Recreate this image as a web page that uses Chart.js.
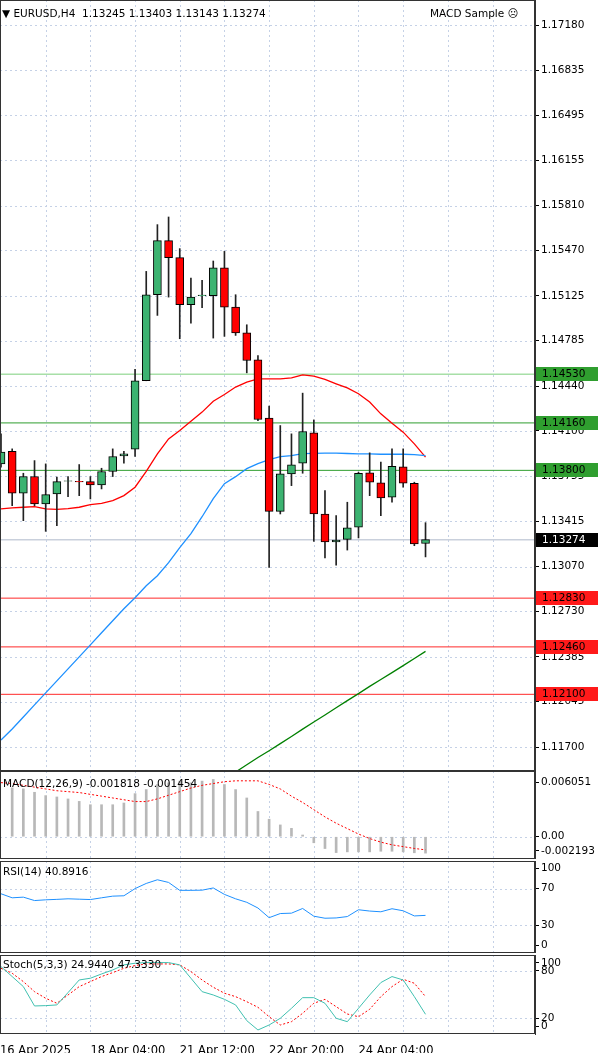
<!DOCTYPE html>
<html><head><meta charset="utf-8">
<script src="https://cdn.jsdelivr.net/npm/chart.js@4"></script>
<style>
html,body{margin:0;padding:0;background:#fff;width:600px;height:1053px;overflow:hidden;font-family:"DejaVu Sans",sans-serif}
.pane{position:absolute;left:0;width:600px}
canvas{display:block}
.ttl{position:absolute;font-size:10.5px;color:#000;white-space:pre;z-index:5}
</style></head><body>
<div class="pane" style="top:0;height:771px"><canvas id="cMain" width="600" height="771" style="width:600px;height:771px"></canvas></div>
<div class="pane" style="top:771px;height:88px"><canvas id="cMacd" width="600" height="88" style="width:600px;height:88px"></canvas></div>
<div class="pane" style="top:859px;height:94px"><canvas id="cRsi" width="600" height="94" style="width:600px;height:94px"></canvas></div>
<div class="pane" style="top:953px;height:100px"><canvas id="cSto" width="600" height="100" style="width:600px;height:100px"></canvas></div>
<div class="ttl" style="left:2px;top:7px">▼ EURUSD,H4  1.13245 1.13403 1.13143 1.13274</div>
<div class="ttl" style="left:430px;top:7px">MACD Sample ☹</div>
<div class="ttl" style="left:3px;top:777px">MACD(12,26,9) -0.001818 -0.001454</div>
<div class="ttl" style="left:3px;top:865px">RSI(14) 40.8916</div>
<div class="ttl" style="left:3px;top:958px">Stoch(5,3,3) 24.9440 47.3330</div>
<script>
// ---- data ----
const openP  = [1.13849,1.13945,1.13626,1.13753,1.13545,1.13621,1.13717,1.13717,1.13715,1.13689,1.13791,1.13910,1.13960,1.14480,1.15133,1.15544,1.15414,1.15057,1.15126,1.15126,1.15338,1.15039,1.14844,1.14639,1.14196,1.13489,1.13773,1.13854,1.14084,1.13469,1.13256,1.13276,1.13368,1.13781,1.13705,1.13596,1.13826,1.13702,1.13245];
const highP  = [1.14077,1.13963,1.13778,1.13874,1.13849,1.13748,1.13753,1.13844,1.13753,1.13816,1.13963,1.13945,1.14566,1.15310,1.15665,1.15723,1.15483,1.15260,1.15242,1.15389,1.15462,1.15133,1.14905,1.14672,1.14287,1.14140,1.14077,1.14386,1.14183,1.13646,1.13456,1.13558,1.13786,1.13933,1.13862,1.13963,1.13963,1.13710,1.13403];
const lowP   = [1.13824,1.13532,1.13418,1.13532,1.13337,1.13380,1.13601,1.13608,1.13583,1.13659,1.13753,1.13854,1.13905,1.14480,1.14976,1.15115,1.14799,1.14918,1.15034,1.14804,1.14817,1.14824,1.14540,1.14178,1.13064,1.13469,1.13684,1.13778,1.13261,1.13135,1.13081,1.13195,1.13287,1.13608,1.13456,1.13558,1.13672,1.13228,1.13143];
const closeP = [1.13938,1.13626,1.13753,1.13545,1.13616,1.13715,1.13721,1.13712,1.13689,1.13791,1.13905,1.13925,1.14480,1.15133,1.15544,1.15414,1.15057,1.15115,1.15130,1.15338,1.15039,1.14844,1.14634,1.14186,1.13489,1.13773,1.13841,1.14095,1.13469,1.13256,1.13271,1.13363,1.13778,1.13710,1.13591,1.13831,1.13702,1.13241,1.13274];
const maRed  = [1.13507,1.13515,1.13520,1.13525,1.13507,1.13504,1.13510,1.13520,1.13540,1.13550,1.13570,1.13608,1.13672,1.13793,1.13925,1.14039,1.14102,1.14173,1.14242,1.14325,1.14376,1.14432,1.14470,1.14495,1.14495,1.14495,1.14502,1.14525,1.14515,1.14490,1.14457,1.14426,1.14381,1.14318,1.14229,1.14158,1.14090,1.14001,1.13900];
const maBlue = [1.11753,1.11837,1.11928,1.12020,1.12111,1.12202,1.12293,1.12384,1.12475,1.12567,1.12658,1.12749,1.12833,1.12924,1.13000,1.13099,1.13213,1.13320,1.13448,1.13585,1.13699,1.13752,1.13813,1.13851,1.13881,1.13904,1.13912,1.13927,1.13929,1.13930,1.13930,1.13928,1.13925,1.13925,1.13922,1.13922,1.13922,1.13920,1.13912];
const maGreen= [null,null,null,null,null,null,null,null,null,null,null,null,null,null,null,null,null,null,null,null,1.11455,1.11510,1.11565,1.11620,1.11672,1.11726,1.11780,1.11836,1.11890,1.11943,1.11998,1.12052,1.12105,1.12160,1.12212,1.12265,1.12318,1.12372,1.12426];
const greenLevels = [1.14530,1.14160,1.13800];
const redLevels   = [1.12830,1.12460,1.12100];
const lastPrice = 1.13274;
const priceTicks = [1.17180,1.16835,1.16495,1.16155,1.15810,1.15470,1.15125,1.14785,1.14440,1.14100,1.13755,1.13415,1.13070,1.12730,1.12385,1.12045,1.11700];
const macdHist = [null,0.00542,0.00531,0.00493,0.00456,0.00441,0.00419,0.00392,0.00355,0.00355,0.00355,0.00374,0.00478,0.00523,0.00579,0.00598,0.00617,0.00598,0.00617,0.00635,0.00579,0.00523,0.00430,0.00280,0.00194,0.00131,0.00093,0.00019,-0.00067,-0.00131,-0.00176,-0.00168,-0.00168,-0.00168,-0.00161,-0.00161,-0.00168,-0.00178,-0.001818];
const macdSignal = [0.0060,0.0059,0.0057,0.0055,0.0053,0.0051,0.0050,0.0049,0.0047,0.0045,0.0043,0.0041,0.0039,0.0039,0.0042,0.0046,0.0050,0.0054,0.0057,0.0059,0.0061,0.0062,0.0062,0.0062,0.0058,0.0053,0.0045,0.0038,0.0030,0.0022,0.0015,0.0009,0.0003,-0.0002,-0.0006,-0.0009,-0.0011,-0.0013,-0.001454];
const rsiVals = [64.4,60,60.7,57,57.8,58.3,58.9,58.5,58.1,60,61.8,62.2,70,75.6,79.6,76.7,68.1,68.1,68.3,70.7,63.7,58.9,55.1,48.9,38.4,42.9,43.3,48.4,40,37.8,38.1,39.6,47,45.6,44.8,48.1,45.9,40.3,40.89];
const stochK = [85.3,72.7,60,35.5,35.9,36.8,52.4,68.4,70.6,76,81.1,87.5,89.6,90.4,90.4,90.4,87.5,70.6,53.6,49.4,43.9,36.8,16.9,5.1,11.4,19.9,32.5,46,46,38.9,19.9,15.6,32.5,49.4,65.1,72.7,68.4,47.3,24.94];
const stochD = [83.2,76.9,66.3,53.6,45.2,38.9,49.4,60,66.3,72.7,77.7,83.2,86.6,88.7,88.7,88.7,87.5,79,68.4,59.2,51.6,47.3,40.9,33.8,21.9,11.4,15.6,26.2,38.9,43.9,34.6,25.3,21.9,31.3,47.3,60,69.3,64.2,47.33];
const macdTickVals = [0.006051,0,-0.00157];
const macdTickText = ["0.006051","0.00","-0.002193"];
const rsiTickVals = [92,70,30,8];
const rsiTickText = ["100","70","30","0"];
const stoTickVals = [90,80,20,10];
const stoTickText = ["100","80","20","0"];
const dateTickVals = [0.91,9,17,25,33];
const dateTickText = ["16 Apr 2025","18 Apr 04:00","21 Apr 12:00","22 Apr 20:00","24 Apr 04:00"];

// ---- layout helpers ----
const XMIN=0.91, XMAX=48.8, AXW=65;
const GRID='#c5d1e6';
const idx = openP.map((_,i)=>i+1);
const gridXTicks=[]; for(let v=5; v<XMAX; v+=4) gridXTicks.push(v);
Chart.defaults.animation=false;
Chart.defaults.responsive=false;
Chart.defaults.devicePixelRatio=1;
Chart.defaults.font={family:"DejaVu Sans",size:10.5};
Chart.defaults.color='#000';

const frame={id:'frame',afterDraw(c){const a=c.chartArea,x=c.ctx;x.save();x.strokeStyle='#333';x.lineWidth=1;x.strokeRect(a.left+0.5,a.top+0.5,a.right-a.left-1,a.bottom-a.top-1);x.restore();}};
const dotGrid={id:'dotGrid',beforeDatasetsDraw(c,args,opts){
  const x=c.ctx,a=c.chartArea,xs=c.scales.x,ys=c.scales.y;x.save();x.strokeStyle=GRID;x.lineWidth=1;x.setLineDash([2,3]);
  x.beginPath();
  gridXTicks.forEach(v=>{const px=Math.round(xs.getPixelForValue(v))+0.5;x.moveTo(px,a.top);x.lineTo(px,a.bottom);});
  (opts.yGrid||[]).forEach(v=>{const py=Math.round(ys.getPixelForValue(v))+0.5;x.moveTo(a.left,py);x.lineTo(a.right,py);});
  x.stroke();x.restore();}};

function xScale(showLabels){
  return {type:'linear',min:XMIN,max:XMAX,offset:false,
    afterBuildTicks:s=>{s.ticks=dateTickVals.map(v=>({value:v}));},
    afterFit:s=>{s.height=showLabels?19:0;s.paddingLeft=0;s.paddingRight=0;},
    grid:{display:false},border:{display:false},
    ticks:{display:showLabels,align:'start',maxRotation:0,autoSkip:false,padding:2,font:{family:"DejaVu Sans",size:11.5},
      callback:(v)=>{const k=dateTickVals.indexOf(v);return k>=0?dateTickText[k]:'';}}};
}
function yScale(min,max,vals,texts){
  return {type:'linear',position:'right',min,max,
    afterBuildTicks:s=>{s.ticks=vals.map(v=>({value:v}));},
    afterFit:s=>{s.width=AXW;s.paddingTop=0;s.paddingBottom=0;},
    grid:{drawOnChartArea:false,color:'#000',tickLength:4},
    border:{display:true,color:'#333'},
    ticks:{padding:2,autoSkip:false,callback:(v,i)=>texts[i]}};
}
const baseOpts=(yGrid)=>({responsive:false,maintainAspectRatio:false,animation:false,layout:{padding:0},
  plugins:{legend:{display:false},tooltip:{enabled:false},dotGrid:{yGrid}}});

// ---- main ----
const levelLabels={id:'levelLabels',afterDraw(c){
  const y=c.scales.y,x=c.ctx,a=c.chartArea;x.save();x.font='10.5px "DejaVu Sans"';x.textBaseline='middle';
  const box=(v,bg,fg)=>{const py=Math.round(y.getPixelForValue(v));x.fillStyle=bg;x.fillRect(a.right+1,py-7,AXW-3,14);x.fillStyle=fg;x.fillText(v.toFixed(5),a.right+7,py+0.5);};
  greenLevels.forEach(v=>box(v,'#2f9e2f','#000'));
  redLevels.forEach(v=>box(v,'#ff1a1a','#000'));
  box(lastPrice,'#000','#fff');
  x.restore();}};
const levelLine=(v,col,w)=>({type:'line',data:[{x:XMIN,y:v},{x:XMAX,y:v}],borderColor:col,borderWidth:w,pointRadius:0,order:5});
const mainOpts=baseOpts(priceTicks);
mainOpts.scales={x:xScale(false),y:yScale(1.11518,1.1737,priceTicks,priceTicks.map(v=>v.toFixed(5)))};
new Chart(document.getElementById('cMain'),{
  type:'bar',
  data:{datasets:[
    ...greenLevels.map((v,i)=>levelLine(v,i===0?'#7ccf7c':'#2f9e2f',1)),
    ...redLevels.map(v=>levelLine(v,'#ff2a2a',1)),
    levelLine(lastPrice,'#c9d0dc',1.5),
    {type:'line',data:idx.map((x,i)=>({x,y:maGreen[i]})),borderColor:'#008000',borderWidth:1.3,pointRadius:0,order:4},
    {type:'line',data:idx.map((x,i)=>({x,y:maBlue[i]})),borderColor:'#1e90ff',borderWidth:1.3,pointRadius:0,order:4},
    {type:'line',data:idx.map((x,i)=>({x,y:maRed[i]})),borderColor:'#ff0000',borderWidth:1.3,pointRadius:0,order:4},
    {type:'bar',data:idx.map((x,i)=>({x,y:[lowP[i],highP[i]]})),backgroundColor:'#222',barThickness:1,grouped:false,order:3},
    {type:'bar',data:idx.map((x,i)=>({x,y:[openP[i],closeP[i]]})),backgroundColor:idx.map((x,i)=>closeP[i]>=openP[i]?'#3cb371':'#ff0000'),borderColor:'#000',borderWidth:1,borderSkipped:false,barThickness:8,grouped:false,order:1}
  ]},
  options:mainOpts,
  plugins:[dotGrid,levelLabels,frame]
});

// ---- MACD ----
const macdOpts=baseOpts([0]);
macdOpts.scales={x:xScale(false),y:yScale(-0.00247,0.00729,macdTickVals,macdTickText)};
new Chart(document.getElementById('cMacd'),{
  type:'bar',
  data:{datasets:[
    {type:'line',data:idx.map((x,i)=>({x,y:macdSignal[i]})),borderColor:'#ff0000',borderWidth:1,borderDash:[2,2],pointRadius:0,order:1},
    {type:'bar',data:idx.map((x,i)=>({x,y:macdHist[i]})),backgroundColor:'#b8b8b8',barThickness:2,grouped:false,order:2}
  ]},
  options:macdOpts,plugins:[dotGrid,frame]
});

// ---- RSI ----
const rsiOpts=baseOpts([70,30]);
rsiOpts.layout={padding:{top:2}};
rsiOpts.scales={x:xScale(false),y:yScale(0,100,rsiTickVals,rsiTickText)};
new Chart(document.getElementById('cRsi'),{
  type:'line',
  data:{datasets:[{data:idx.map((x,i)=>({x,y:rsiVals[i]})),borderColor:'#1e90ff',borderWidth:1,pointRadius:0}]},
  options:rsiOpts,plugins:[dotGrid,frame]
});

// ---- Stoch ----
const stoOpts=baseOpts([80,20]);
stoOpts.layout={padding:{top:2}};
stoOpts.scales={x:xScale(true),y:yScale(0,100,stoTickVals,stoTickText)};
new Chart(document.getElementById('cSto'),{
  type:'line',
  data:{datasets:[
    {data:idx.map((x,i)=>({x,y:stochK[i]})),borderColor:'#40c0b0',borderWidth:1,pointRadius:0},
    {data:idx.map((x,i)=>({x,y:stochD[i]})),borderColor:'#ff0000',borderWidth:1,borderDash:[2,2],pointRadius:0}
  ]},
  options:stoOpts,plugins:[dotGrid,frame]
});
</script></body></html>
